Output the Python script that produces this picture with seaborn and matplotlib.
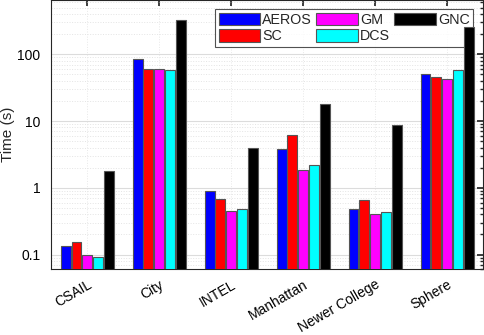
import matplotlib
matplotlib.use("Agg")
import matplotlib.pyplot as plt
import numpy as np
import pandas as pd
import seaborn as sns

datasets = ["CSAIL", "City", "INTEL", "Manhattan", "Newer College", "Sphere"]
methods = ["AEROS", "SC", "GM", "DCS", "GNC"]
aeros = [0.132, 86, 0.89, 3.75, 0.48, 50.7]
sc = [0.153, 61, 0.67, 6.2, 0.65, 46]
gm = [0.097, 61, 0.45, 1.82, 0.40, 42]
dcs = [0.093, 57.5, 0.48, 2.18, 0.43, 57.5]
gnc = [1.77, 323, 3.9, 18.3, 8.6, 255]
colors = ["#0000ff", "#ff0000", "#ff00ff", "#00ffff", "#000000"]

rows = []
for m, vals in zip(methods, [aeros, sc, gm, dcs, gnc]):
    for d, v in zip(datasets, vals):
        rows.append({"dataset": d, "method": m, "time": v})
df = pd.DataFrame(rows)

sns.set_theme(style="white")
plt.rcParams["font.family"] = ["Liberation Sans", "DejaVu Sans"]

fig = plt.figure(figsize=(4.84, 3.35), dpi=100)
ax = fig.add_axes([0.106, 0.196, 0.892, 0.804])

sns.barplot(data=df, x="dataset", y="time", hue="method", order=datasets,
            hue_order=methods, palette=colors, saturation=1, width=0.75, gap=0.08,
            edgecolor="#555555", linewidth=0.8, errorbar=None, ax=ax, zorder=3)
ax.set_yscale("log")

ax.set_ylim(0.06, 650)
ax.set_xlim(-0.5, 5.5)
ax.set_yticks([0.1, 1, 10, 100])
ax.set_yticklabels(["0.1", "1", "10", "100"], fontsize=10)
ax.set_xticks(range(len(datasets)))
ax.set_xticklabels(datasets, rotation=30, fontsize=10)
for lbl in ax.get_xticklabels():
    lbl.set_rotation_mode("anchor")
    lbl.set_ha("right")
ax.set_xlabel("")
ax.set_ylabel("Time (s)", fontsize=11)
ax.yaxis.set_label_coords(-0.084, 0.5)

ax.grid(True, which="major", axis="y", color="#dcdcdc", linewidth=0.8, zorder=0)
ax.grid(True, which="minor", axis="y", color="#e4e4e4", linestyle=":", linewidth=0.7, zorder=0)
ax.grid(True, which="major", axis="x", color="#e8e8e8", linestyle=":", linewidth=0.7, zorder=0)
ax.set_axisbelow(True)

ax.tick_params(axis="both", which="both", direction="in", top=True, right=True,
               colors="#262626", labelcolor="black")
ax.tick_params(axis="both", which="major", length=4)
ax.tick_params(axis="y", which="minor", length=2)
ax.tick_params(axis="x", pad=6)
ax.tick_params(axis="y", pad=8)
for s in ax.spines.values():
    s.set_color("#262626")
    s.set_linewidth(0.8)

leg = ax.legend(ncol=3, loc="upper right", bbox_to_anchor=(0.977, 0.965),
                fontsize=10.3, frameon=True, fancybox=False, edgecolor="#262626",
                handlelength=2.9, handleheight=0.95, handletextpad=0.15,
                columnspacing=0.3, labelspacing=0.15, borderpad=0.25,
                borderaxespad=0)
leg.get_frame().set_linewidth(0.8)
leg.set_zorder(2)

fig.savefig("out.png", dpi=100)
